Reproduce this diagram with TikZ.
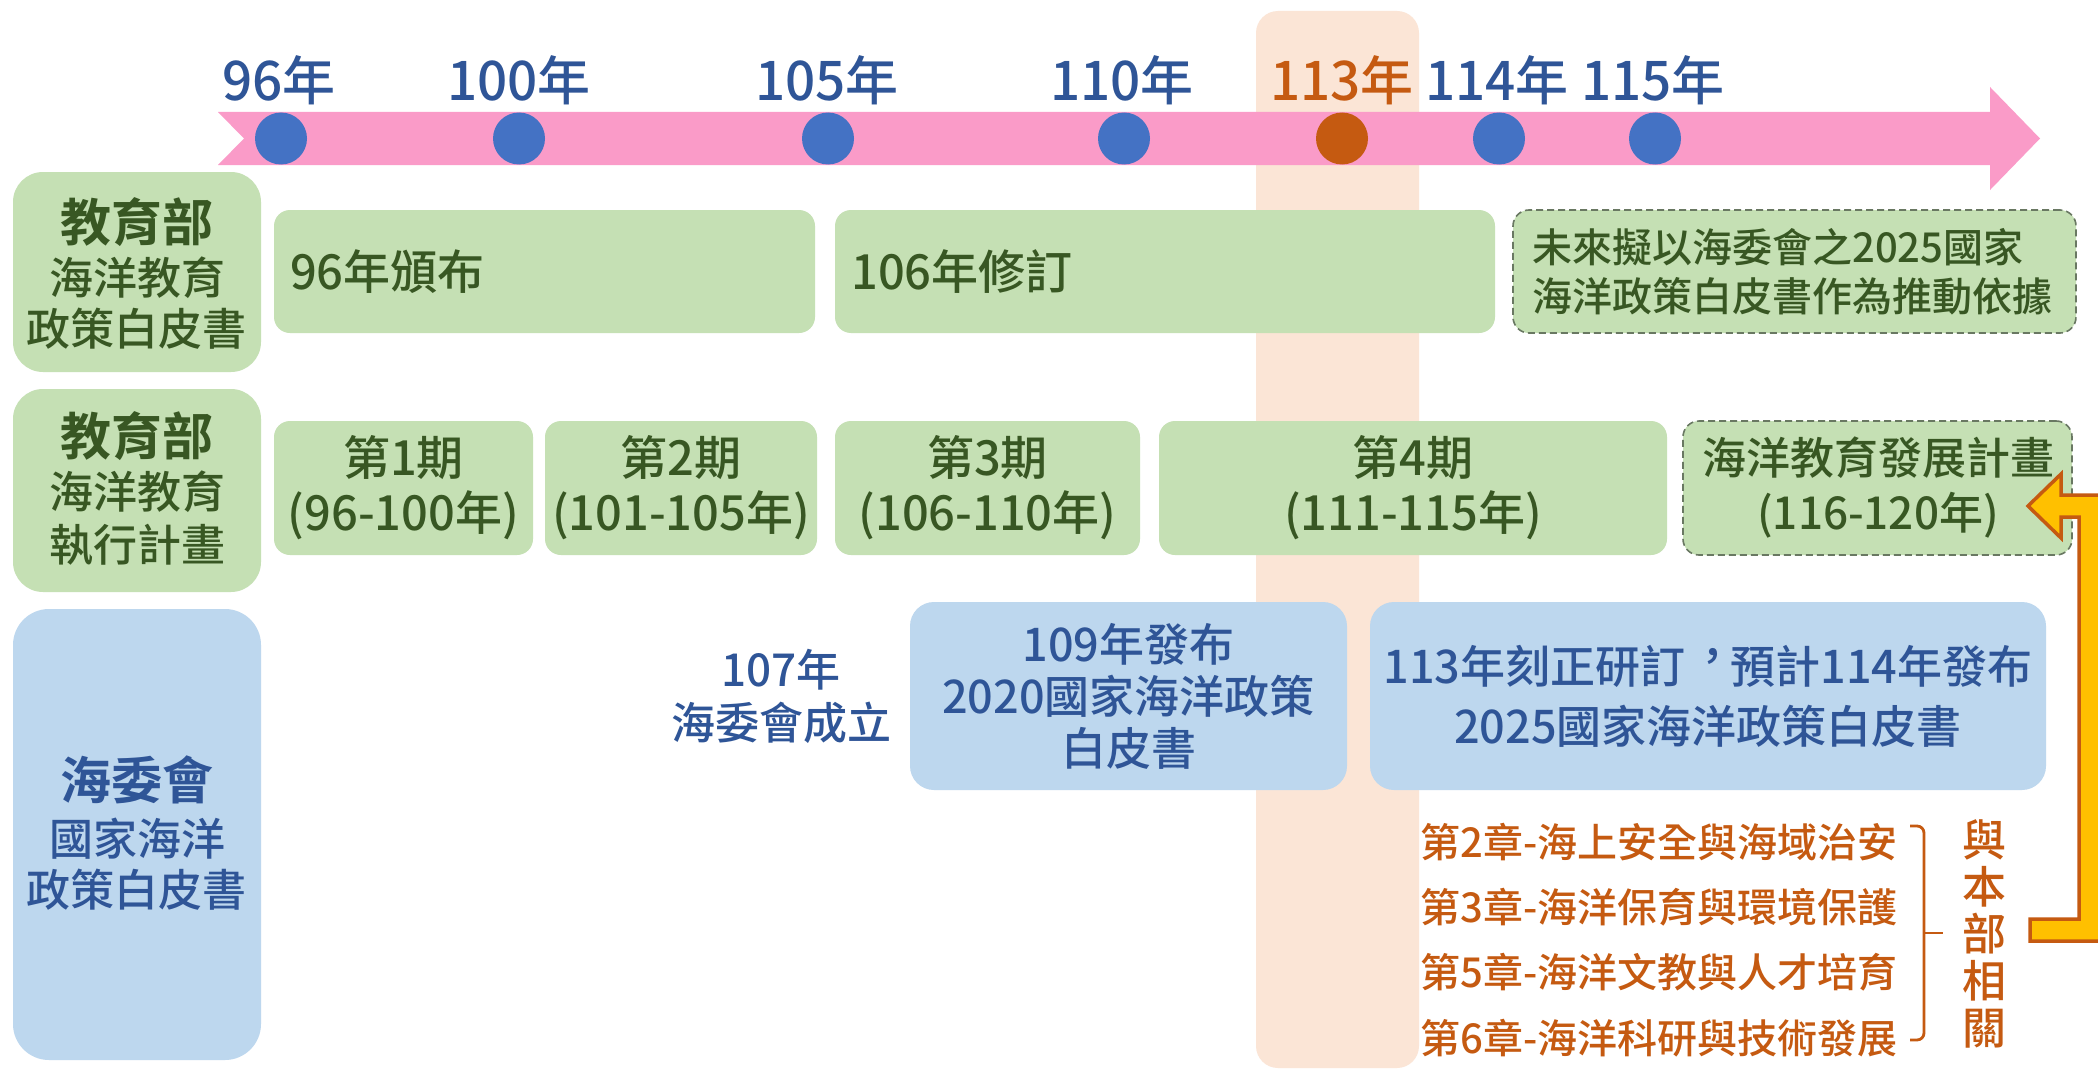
\documentclass[tikz,border=0pt]{standalone}
\usepackage{fontspec}
\setmainfont{Noto Sans CJK TC}[UprightFont=* Medium, BoldFont=* Bold, Script=CJK, Language=Chinese Traditional]
\newcommand\midcomma{\makebox[1em][l]{\hspace{0.1em}\raisebox{0.24em}{\makebox[0pt][l]{，}}}}
\definecolor{pinkband}{RGB}{250,155,200}
\definecolor{dotblue}{HTML}{4472C4}
\definecolor{dotorange}{HTML}{C55A11}
\definecolor{yearblue}{HTML}{2F5597}
\definecolor{gfill}{HTML}{C5E0B4}
\definecolor{gtext}{HTML}{385723}
\definecolor{bfill}{HTML}{BDD7EE}
\definecolor{btext}{HTML}{2F5597}
\definecolor{peach}{HTML}{FBE5D6}
\definecolor{otext}{HTML}{C55A11}
\definecolor{gold}{HTML}{FFC000}
\definecolor{dashgray}{RGB}{105,120,98}
\begin{document}
\begin{tikzpicture}[x=1pt,y=-1pt,
  gbox/.style={fill=gfill, rounded corners=16pt, inner sep=0pt, text=gtext},
  gdash/.style={gbox, draw=dashgray, line width=1.6pt, dash pattern=on 7pt off 4pt},
  bbox/.style={fill=bfill, rounded corners=24pt, inner sep=0pt, text=btext},
  yr/.style={text=yearblue, font=\fontsize{53}{60}\selectfont, inner sep=0pt},
  dot/.style={circle, fill=dotblue, minimum size=52pt, inner sep=0pt},
  txt/.style={inner sep=0pt, font=\fontsize{47}{55}\selectfont},
  hbig/.style={inner sep=0pt, font=\bfseries\fontsize{51}{56}\selectfont},
  hsmall/.style={inner sep=0pt, font=\fontsize{44}{50}\selectfont},
  chap/.style={inner sep=0pt, anchor=west, text=otext, font=\fontsize{40}{48}\selectfont},
]
\clip (0,0) rectangle (2098,1070);
\fill[white] (0,0) rectangle (2098,1070);
% highlight column
\fill[peach, rounded corners=22pt] (1256,11) rectangle (1419,1068);
% timeline band
\fill[pinkband] (218,112) -- (1990,112) -- (1990,87) -- (2040,138.5) -- (1990,190) -- (1990,165) -- (218,165) -- (244,138.5) -- cycle;
% dots and year labels
\node[dot] (d96) at (281,138.5) {};
\node[dot] (d100) at (519,138.5) {};
\node[dot] (d105) at (828,138.5) {};
\node[dot] (d110) at (1124,138.5) {};
\node[dot, fill=dotorange] (d113) at (1342,138.5) {};
\node[dot] (d114) at (1499,138.5) {};
\node[dot] (d115) at (1655,138.5) {};
\node[yr] (y96) at (279,80) {96年};
\node[yr] (y100) at (519,80) {100年};
\node[yr] (y105) at (827,80) {105年};
\node[yr] (y110) at (1122,80) {110年};
\node[yr, text=dotorange] (y113) at (1342,80) {113年};
\node[yr] (y114) at (1497,80) {114年};
\node[yr] (y115) at (1653,80) {115年};
% row headers
\node[gbox, rounded corners=30pt, minimum width=248pt, minimum height=200pt] (L1) at (137,272) {};
\node[hbig, text=gtext] (L1a) at (137,222) {教育部};
\node[hsmall, text=gtext] (L1b) at (137,278) {海洋教育};
\node[hsmall, text=gtext] (L1c) at (137,329) {政策白皮書};
\node[gbox, rounded corners=30pt, minimum width=248pt, minimum height=203pt] (L2) at (137,490.5) {};
\node[hbig, text=gtext] (L2a) at (137,436) {教育部};
\node[hsmall, text=gtext] (L2b) at (137,492) {海洋教育};
\node[hsmall, text=gtext] (L2c) at (137,545) {執行計畫};
\node[bbox, rounded corners=36pt, minimum width=248pt, minimum height=451pt] (L3) at (137,834.5) {};
\node[hbig, text=btext] (L3a) at (137,780) {海委會};
\node[hsmall, text=btext] (L3b) at (137,839) {國家海洋};
\node[hsmall, text=btext] (L3c) at (137,890) {政策白皮書};
% row 1
\node[gbox, minimum width=541pt, minimum height=123pt] (b96) at (544.5,271.5) {};
\node[txt, text=gtext, anchor=west] (b96t) at (290,271.5) {96年頒布};
\node[gbox, minimum width=660pt, minimum height=123pt] (b106) at (1165,271.5) {};
\node[txt, text=gtext, anchor=west] (b106t) at (851,271.5) {106年修訂};
\node[gdash, minimum width=563pt, minimum height=123pt] (bfut) at (1794.5,271.5) {};
\node[inner sep=0pt, text=gtext, anchor=west, align=left, font=\fontsize{40}{49}\selectfont] (bfutt) at (1532,271.5) {未來擬以海委會之2025國家\\海洋政策白皮書作為推動依據};
% row 2
\node[gbox, txt, align=center, minimum width=259pt, minimum height=134pt] (p1) at (403.5,488) {第1期\\(96-100年)};
\node[gbox, txt, align=center, minimum width=272pt, minimum height=134pt] (p2) at (681,488) {第2期\\(101-105年)};
\node[gbox, txt, align=center, minimum width=305pt, minimum height=134pt] (p3) at (987.5,488) {第3期\\(106-110年)};
\node[gbox, txt, align=center, minimum width=508pt, minimum height=134pt] (p4) at (1413,488) {第4期\\(111-115年)};
\node[gdash, minimum width=389pt, minimum height=134pt] (p5) at (1877.5,488) {};
\node[txt, text=gtext, align=center, font=\fontsize{44}{55}\selectfont] (p5t) at (1878,488) {海洋教育發展計畫\\(116-120年)};
% row 3
\node[txt, text=btext, align=center, font=\fontsize{44}{53}\selectfont] (oac) at (781,696) {107年\\海委會成立};
\node[bbox, txt, align=center, font=\fontsize{45}{52}\selectfont, minimum width=437pt, minimum height=188pt] (w109) at (1128.5,696) {109年發布\\2020國家海洋政策\\白皮書};
\node[bbox, txt, align=center, font=\fontsize{45}{60}\selectfont, minimum width=676pt, minimum height=188pt] (w113) at (1708,696) {113年刻正研訂\midcomma 預計114年發布\\2025國家海洋政策白皮書};
% chapters
\node[chap] (c2) at (1420,842) {第2章-海上安全與海域治安};
\node[chap] (c3) at (1420,907) {第3章-海洋保育與環境保護};
\node[chap] (c5) at (1420,972) {第5章-海洋文教與人才培育};
\node[chap] (c6) at (1420,1038) {第6章-海洋科研與技術發展};
\coordinate (brT) at (1910,826);
\coordinate (brB) at (1910,1040);
\coordinate (brM) at (1924,933);
\coordinate (brE) at (1943,933);
\draw[otext, line width=2.8pt, rounded corners=7pt] (brT) -- (1924,826) -- (1924,1040) -- (brB);
\draw[otext, line width=2.8pt] (brM) -- (brE);
\node[inner sep=0pt, text=otext, align=center, font=\fontsize{44}{47}\selectfont] (rel) at (1984,934) {與\\本\\部\\相\\關};
% orange return arrow
\fill[gold] (2030,919) -- (2079,919) -- (2079,517) -- (2061,517) -- (2061,538) -- (2028,506) -- (2061,474) -- (2061,495) -- (2103,495) -- (2103,941) -- (2030,941) -- cycle;
\draw[otext, line width=3.5pt, line join=miter] (2030,919) -- (2079,919) -- (2079,517) -- (2061,517) -- (2061,538) -- (2028,506) -- (2061,474) -- (2061,495) -- (2103,495) -- (2103,941) -- (2030,941) -- cycle;
\coordinate (arrowtip) at (2028,506);
\end{tikzpicture}
\end{document}
